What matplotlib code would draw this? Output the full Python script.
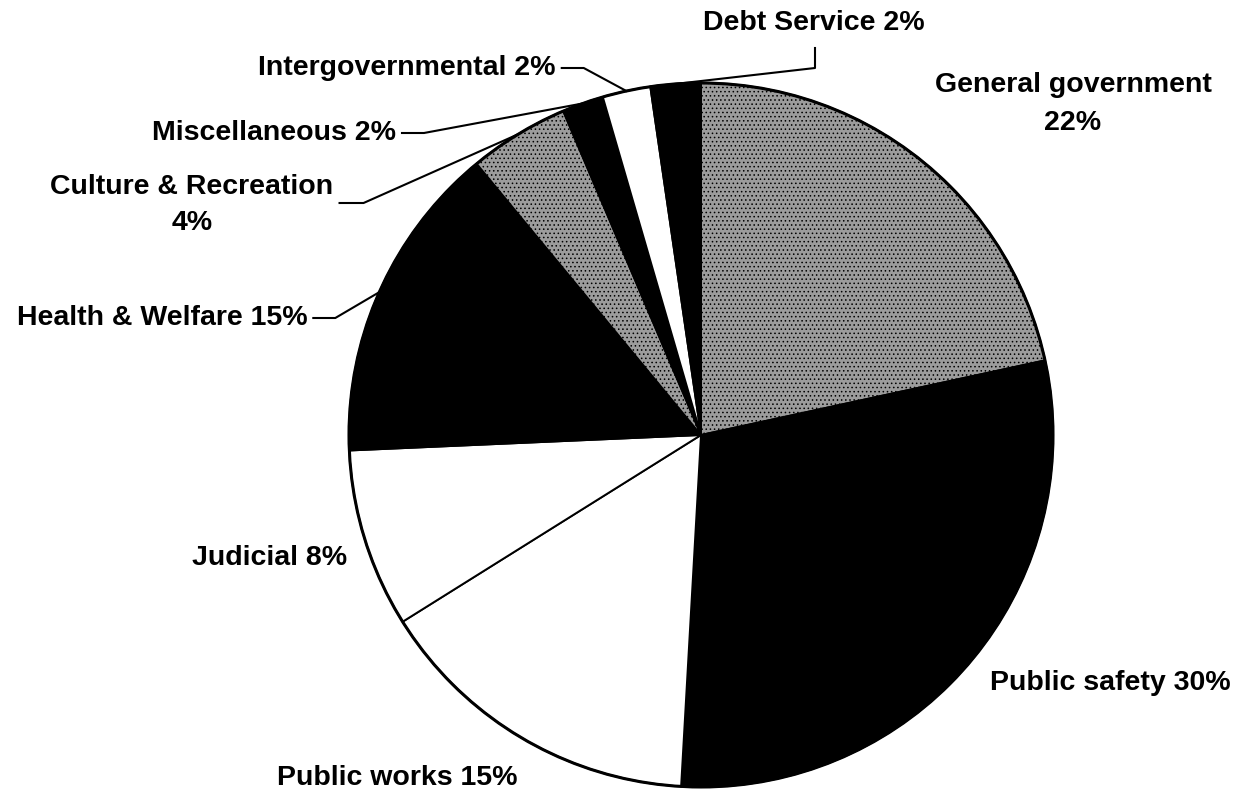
"""
Expenditure pie chart (scanned-style), redrawn with matplotlib
"""

import numpy as np
import matplotlib
matplotlib.use("Agg")
import matplotlib.pyplot as plt

#--------------------------------------------------------------

categories = ["General government", "Public safety", "Public works",
              "Judicial", "Health & Welfare", "Culture & Recreation",
              "Miscellaneous", "Intergovernmental", "Debt Service"]
# shares (labels carry the rounded figures)
shares = [21.6, 29.3, 15.2, 8.2, 14.7, 4.6, 1.9, 2.2, 2.3]
labels = ["General government\n22%", "Public safety 30%", "Public works 15%",
          "Judicial 8%", "Health & Welfare 15%", "Culture & Recreation\n4%",
          "Miscellaneous 2%", "Intergovernmental 2%", "Debt Service 2%"]

# fill style per slice: 's' stipple, 'k' black, 'w' white
fills = ["s", "k", "w", "w", "k", "s", "k", "w", "k"]

# label positions in pixels (x, y from top), and whether a leader is drawn
label_pos = [(1073, 104), (1110, 683), (397, 778), (270, 558), (162, 318),
             (192, 205), (274, 133), (407, 68), (814, 23)]
leader = [False, False, False, False, True, True, True, True, True]

#--------------------------------------------------------------

W, H = 1239, 798
CX, CY, R = 701, 435, 352

plt.rcParams["font.family"] = ["Liberation Sans", "DejaVu Sans"]
plt.rcParams["hatch.linewidth"] = 0.6

fig = plt.figure(figsize=(W / 100, H / 100), dpi=100)
ax = fig.add_axes([0, 0, 1, 1])

colors = {"s": "#9c9c9c", "k": "black", "w": "white"}
wedges, _ = ax.pie(shares, startangle=90, counterclock=False,
                   center=(CX, H - CY), radius=R,
                   colors=[colors[f] for f in fills],
                   wedgeprops=dict(edgecolor="black", linewidth=1.4))
for wedge, f in zip(wedges, fills):
    if f == "s":
        wedge.set_hatch("....")

# thicker outline around the whole pie
ax.add_patch(plt.Circle((CX, H - CY), R, fill=False, lw=2.2, color="black"))

ax.set_aspect("auto")
ax.set_xlim(0, W)
ax.set_ylim(0, H)
ax.axis("off")

renderer = fig.canvas.get_renderer()
inv = ax.transData.inverted()

for wedge, text, (lx, ly), has_leader in zip(wedges, labels, label_pos, leader):
    txt = ax.text(lx, H - ly, text, ha="center", va="center", fontsize=20.5,
                  fontweight="bold", linespacing=1.55)
    if not has_leader:
        continue
    mid = np.deg2rad((wedge.theta1 + wedge.theta2) / 2)
    ex, ey = CX + R * np.cos(mid), (H - CY) + R * np.sin(mid)
    bbox = txt.get_window_extent(renderer)
    right = inv.transform((bbox.x1, bbox.y0))[0]
    if text.startswith("Debt"):
        pts = [(lx + 1, H - 48), (lx + 1, H - 68), (ex, ey)]
    elif "\n" in text:
        pts = [(right + 6, H - 203), (right + 30, H - 203), (ex, ey)]
    else:
        pts = [(right + 6, H - ly), (right + 28, H - ly), (ex, ey)]
    xs, ys = zip(*pts)
    ax.plot(xs, ys, color="black", lw=1.5)

fig.savefig("out.png", dpi=100, facecolor="white")
